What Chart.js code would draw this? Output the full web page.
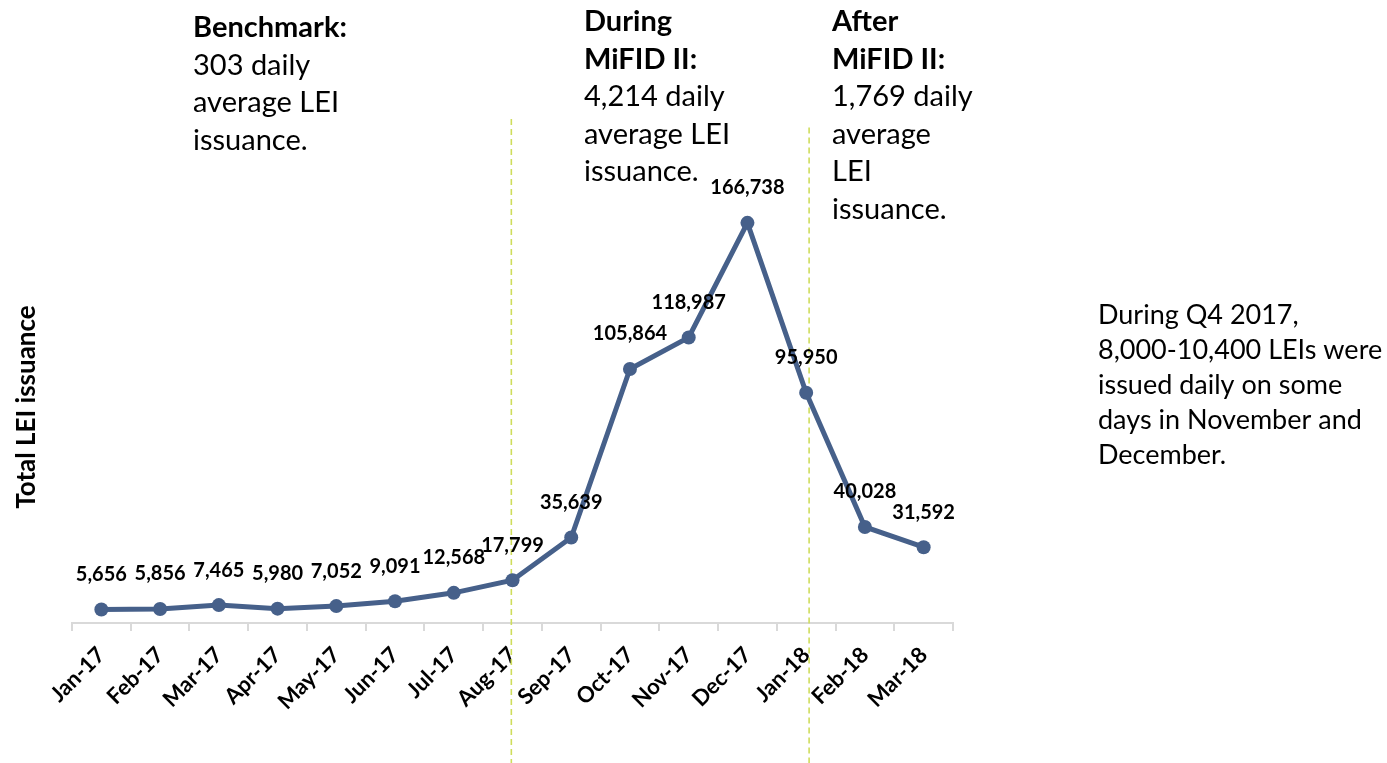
<!DOCTYPE html>
<html>
<head>
<meta charset="utf-8">
<script src="https://cdn.jsdelivr.net/npm/chart.js@4.4.1/dist/chart.umd.min.js"></script>
<style>
  html, body { margin: 0; padding: 0; background: #ffffff; }
  #wrap { width: 1387px; height: 763px; position: relative; }
</style>
</head>
<body>
<div id="wrap"><canvas id="c" width="1387" height="763"></canvas></div>
<script>
// ---- data ----
const categories = ["Jan-17","Feb-17","Mar-17","Apr-17","May-17","Jun-17","Jul-17","Aug-17","Sep-17","Oct-17","Nov-17","Dec-17","Jan-18","Feb-18","Mar-18"];
const issuance = [5656, 5856, 7465, 5980, 7052, 9091, 12568, 17799, 35639, 105864, 118987, 166738, 95950, 40028, 31592];
const yAxisTitle = "Total LEI issuance";
const yMin = 0;
const yMax = 180000;
// divider positions on the category axis (index) and their top value on the y scale
const dividerIndex = [6.98, 12.05];
const dividerTopValue = [210000, 206500];

const notes = [
  { x: 193, y: 28, step: 37.5, lines: [["Benchmark:", true], ["303 daily", false], ["average LEI", false], ["issuance.", false]] },
  { x: 584, y: 22, step: 37.5, lines: [["During", true], ["MiFID II:", true], ["4,214 daily", false], ["average LEI", false], ["issuance.", false]] },
  { x: 832, y: 22, step: 37.5, lines: [["After", true], ["MiFID II:", true], ["1,769 daily", false], ["average", false], ["LEI", false], ["issuance.", false]] },
  { x: 1098, y: 315, step: 35, size: 27, lines: [["During Q4 2017,", false], ["8,000-10,400 LEIs were", false], ["issued daily on some", false], ["days in November and", false], ["December.", false]] }
];

const FONT = "Lato, 'Open Sans', sans-serif";
const lineColor = "#46608a";

const fmt = v => v.toLocaleString("en-US");

const overlayPlugin = {
  id: "overlay",
  beforeDatasetsDraw(chart) {
    const ctx = chart.ctx;
    const xs = chart.scales.x, ys = chart.scales.y;
    ctx.save();
    ctx.strokeStyle = "#cfdd5c";
    ctx.lineWidth = 1.6;
    ctx.setLineDash([6, 4]);
    dividerIndex.forEach((d, i) => {
      const x = xs.getPixelForValue(d);
      const yTop = ys.getPixelForValue(dividerTopValue[i]);
      ctx.beginPath();
      ctx.moveTo(x, yTop);
      ctx.lineTo(x, chart.height);
      ctx.stroke();
    });
    ctx.restore();
  },
  afterDatasetsDraw(chart) {
    const ctx = chart.ctx;
    // data labels
    const meta = chart.getDatasetMeta(0);
    ctx.save();
    ctx.font = "bold 20px " + FONT;
    ctx.fillStyle = "#000000";
    ctx.textAlign = "center";
    ctx.textBaseline = "middle";
    meta.data.forEach((pt, i) => {
      ctx.fillText(fmt(issuance[i]), pt.x, pt.y - 35);
    });
    ctx.restore();

    // text notes
    ctx.save();
    ctx.fillStyle = "#000000";
    ctx.textAlign = "left";
    ctx.textBaseline = "middle";
    notes.forEach(n => {
      const size = n.size || 29;
      n.lines.forEach((ln, j) => {
        ctx.font = (ln[1] ? "bold " : "") + size + "px " + FONT;
        ctx.fillText(ln[0], n.x, n.y + j * n.step);
      });
    });
    ctx.restore();
  }
};

new Chart(document.getElementById("c"), {
  type: "line",
  data: {
    labels: categories,
    datasets: [{
      data: issuance,
      borderColor: lineColor,
      backgroundColor: lineColor,
      borderWidth: 5,
      pointRadius: 7,
      pointHoverRadius: 7,
      pointBackgroundColor: lineColor,
      pointBorderColor: lineColor,
      pointBorderWidth: 0,
      tension: 0,
      clip: false
    }]
  },
  options: {
    responsive: false,
    animation: false,
    devicePixelRatio: 1,
    layout: { padding: { left: 0, right: 434, top: 191, bottom: 0 } },
    plugins: { legend: { display: false }, tooltip: { enabled: false } },
    scales: {
      x: {
        type: "category",
        offset: true,
        grid: {
          display: true,
          offset: true,
          drawOnChartArea: false,
          drawTicks: true,
          tickLength: 8,
          color: "#d9d9d9",
          lineWidth: 2
        },
        border: { display: true, color: "#d9d9d9", width: 2 },
        ticks: {
          minRotation: 45,
          maxRotation: 45,
          autoSkip: false,
          padding: 11,
          color: "#000000",
          font: { family: FONT, size: 22, weight: "bold" }
        },
        afterFit(scale) { scale.height = 140; }
      },
      y: {
        min: yMin,
        max: yMax,
        grid: { display: false },
        border: { display: false },
        ticks: { display: false },
        title: {
          display: true,
          text: yAxisTitle,
          color: "#000000",
          font: { family: FONT, size: 26, weight: "bold" },
          padding: { top: 11, bottom: 0 }
        },
        afterFit(scale) { scale.width = 72; }
      }
    }
  },
  plugins: [overlayPlugin]
});
</script>
</body>
</html>
